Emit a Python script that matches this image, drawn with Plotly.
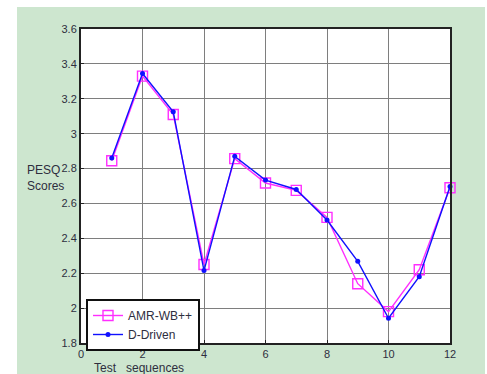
import plotly.graph_objects as go

# Test sequence index and PESQ scores for the two codecs
sequences = [1, 2, 3, 4, 5, 6, 7, 8, 9, 10, 11, 12]
amr_wb_pp = [2.845, 3.33, 3.11, 2.25, 2.857, 2.717, 2.675, 2.52, 2.14, 1.98, 2.22, 2.69]
d_driven = [2.86, 3.345, 3.125, 2.215, 2.87, 2.734, 2.68, 2.505, 2.268, 1.942, 2.18, 2.697]

x_ticks = [0, 2, 4, 6, 8, 10, 12]
y_ticks = [1.8, 2.0, 2.2, 2.4, 2.6, 2.8, 3.0, 3.2, 3.4, 3.6]
y_tick_text = ["1.8", "2", "2.2", "2.4", "2.6", "2.8", "3", "3.2", "3.4", "3.6"]

GREEN = "#cde6cf"
TXT = "#2e2e3e"
FONT = "Liberation Sans, Arial, sans-serif"

fig = go.Figure()
fig.add_trace(go.Scatter(
    x=sequences, y=amr_wb_pp, name="AMR-WB++", mode="lines+markers", cliponaxis=False,
    line=dict(color="#ff2eff", width=1.4),
    marker=dict(symbol="square-open", size=10, color="#ff2eff", line=dict(width=1.4)),
))
fig.add_trace(go.Scatter(
    x=sequences, y=d_driven, name="D-Driven", mode="lines+markers", cliponaxis=False,
    line=dict(color="#1010ff", width=1.4),
    marker=dict(symbol="circle", size=5, color="#1010ff"),
))

W, H = 487, 374
L, R, T, B = 81, 37, 29, 31
pw, ph = W - L - R, H - T - B

def px_x(p):
    return (p - L) / pw

def px_y(p):
    return (H - B - p) / ph

# White strips around the green page backdrop
fig.add_shape(type="rect", xref="paper", yref="paper", layer="below",
              x0=px_x(-5), x1=px_x(W + 5), y0=px_y(7), y1=px_y(-5),
              fillcolor="white", line=dict(width=0))
fig.add_shape(type="rect", xref="paper", yref="paper", layer="below",
              x0=px_x(-5), x1=px_x(17), y0=px_y(H + 5), y1=px_y(-5),
              fillcolor="white", line=dict(width=0))
fig.add_shape(type="rect", xref="paper", yref="paper", layer="below",
              x0=px_x(485), x1=px_x(W + 5), y0=px_y(H + 5), y1=px_y(-5),
              fillcolor="white", line=dict(width=0))

fig.add_annotation(xref="paper", yref="paper", x=px_x(25), y=px_y(178),
                   xanchor="left", yanchor="middle", align="left", showarrow=False,
                   text="PESQ<br>Scores", font=dict(family=FONT, size=12, color=TXT))
fig.add_annotation(xref="paper", yref="paper", x=px_x(92), y=px_y(368),
                   xanchor="left", yanchor="middle", showarrow=False,
                   text="Test\u00a0\u00a0\u00a0sequences", font=dict(family=FONT, size=12, color=TXT))

axis_common = dict(
    showgrid=True, gridcolor="#7e7e7e", gridwidth=1.4,
    showline=True, linecolor="#222222", linewidth=2, mirror=True,
    ticks="inside", ticklen=3, tickcolor="#222222",
    zeroline=False, tickfont=dict(family=FONT, size=11, color=TXT),
)

fig.update_xaxes(range=[0, 12], tickvals=x_ticks, **axis_common)
fig.update_yaxes(range=[1.8, 3.6], tickvals=y_ticks, ticktext=y_tick_text, **axis_common)

fig.update_layout(
    width=W, height=H,
    margin=dict(l=L, r=R, t=T, b=B),
    paper_bgcolor=GREEN, plot_bgcolor="white",
    showlegend=True,
    legend=dict(x=px_x(86), y=px_y(299), xanchor="left", yanchor="top",
                bgcolor="white", bordercolor="#111111", borderwidth=2,
                font=dict(family=FONT, size=12, color=TXT),
                tracegroupgap=0, itemwidth=30),
)

fig.write_html("out.html")
